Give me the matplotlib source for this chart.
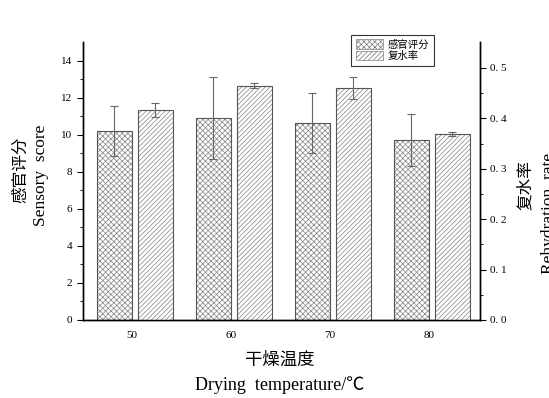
import matplotlib
matplotlib.use('Agg')
import matplotlib.pyplot as plt
import numpy as np
from matplotlib.patches import Patch

plt.rcParams['font.family'] = ['Liberation Serif', 'Noto Sans CJK SC']
plt.rcParams['hatch.linewidth'] = 0.55

temps = ['50', '60', '70', '80']
sensory = [10.2, 10.9, 10.63, 9.73]
sensory_err = [1.35, 2.2, 1.6, 1.4]
rehyd = [0.417, 0.465, 0.460, 0.368]
rehyd_err = [0.014, 0.005, 0.022, 0.004]

cn = ['Noto Sans CJK SC', 'DejaVu Sans']

fig = plt.figure(figsize=(5.49, 3.98), dpi=100)
ax = fig.add_axes([0.151, 0.196, 0.723, 0.698])
ax2 = ax.twinx()

x = np.arange(len(temps))
w = 0.354
gap = 0.06

# sensory bars: left of tick
ax.bar(x - w, sensory, width=w, align='edge', color='white',
       edgecolor='#8c8c8c', hatch='xxxxxx', linewidth=0)
ax.bar(x - w, sensory, width=w, align='edge', fill=False,
       edgecolor='#555555', linewidth=0.8)
ax.errorbar(x - w / 2, sensory, yerr=sensory_err, fmt='none',
            ecolor='#666666', elinewidth=0.8, capsize=3, capthick=0.8)

# rehydration bars: right of tick
ax2.bar(x + gap, rehyd, width=w, align='edge', color='white',
        edgecolor='#8c8c8c', hatch='///////', linewidth=0)
ax2.bar(x + gap, rehyd, width=w, align='edge', fill=False,
        edgecolor='#555555', linewidth=0.8)
ax2.errorbar(x + gap + w / 2, rehyd, yerr=rehyd_err, fmt='none',
             ecolor='#666666', elinewidth=0.8, capsize=3, capthick=0.8)

ax.set_xlim(-0.495, 3.515)
ax.set_ylim(0, 15)
ax2.set_ylim(0, 0.551)

ax.set_xticks(x)
ax.set_xticklabels(temps, fontsize=8)
ax.tick_params(axis='x', length=0, pad=8)
ax.set_yticks(np.arange(0, 15, 2))
ax.set_yticks(np.arange(1, 15, 2), minor=True)
ax.tick_params(axis='y', which='major', length=4, labelsize=8, direction='out')
ax.tick_params(axis='y', which='minor', length=2, direction='out')

ax2.set_yticks(np.arange(0, 0.51, 0.1))
ax2.set_yticklabels(['0. 0', '0. 1', '0. 2', '0. 3', '0. 4', '0. 5'])
ax2.set_yticks(np.arange(0.05, 0.55, 0.1), minor=True)
ax2.tick_params(axis='y', which='major', length=4, labelsize=8, direction='out')
ax2.tick_params(axis='y', which='minor', length=2, direction='out')

for a in (ax, ax2):
    a.spines['top'].set_visible(False)
    for s in ('left', 'right', 'bottom'):
        a.spines[s].set_linewidth(1.0)

# axis labels
fig.text(21 / 549, 1 - 170 / 398, '感官评分', rotation=90, family=cn,
         fontsize=12, ha='center', va='center')
fig.text(41 / 549, 1 - 175 / 398, 'Sensory  score', rotation=90,
         fontsize=12.5, ha='center', va='center')
fig.text(525 / 549, 1 - 185 / 398, '复水率', rotation=90, family=cn,
         fontsize=12, ha='center', va='center')
fig.text(549 / 549, 1 - 213 / 398, 'Rehydration  rate', rotation=90,
         fontsize=12.5, ha='center', va='center')
fig.text(280 / 549, 1 - 360 / 398, '干燥温度', family=cn,
         fontsize=12.5, ha='center', va='center')
fig.text(280 / 549, 1 - 385 / 398, 'Drying  temperature/℃',
         family=['Liberation Serif', 'Noto Sans CJK SC'],
         fontsize=13, ha='center', va='center')

handles = [Patch(facecolor='white', edgecolor='#808080', hatch='xxxxxx', linewidth=0.5),
           Patch(facecolor='white', edgecolor='#808080', hatch='///////', linewidth=0.5)]
leg = ax.legend(handles, ['感官评分', '复水率'], loc='upper left',
                bbox_to_anchor=(268 / 397, 1.027), prop={'family': cn, 'size': 7.5},
                frameon=True, fancybox=False, edgecolor='black',
                handlelength=2.6, handleheight=1.0, handletextpad=0.5,
                labelspacing=0.15, borderpad=0.45, borderaxespad=0)
leg.get_frame().set_linewidth(0.8)

fig.savefig('out.png', dpi=100)
